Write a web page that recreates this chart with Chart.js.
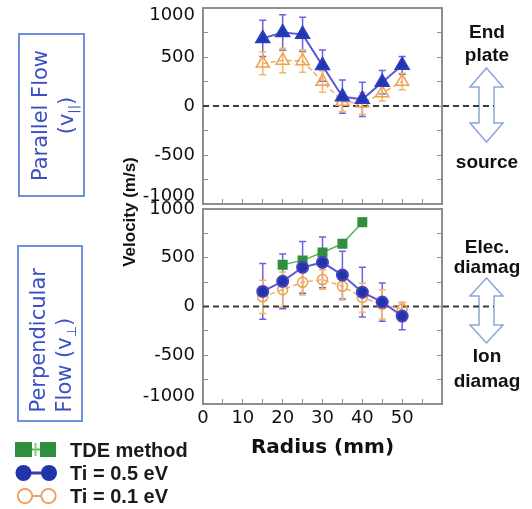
<!DOCTYPE html>
<html>
<head>
<meta charset="utf-8">
<script src="https://cdn.jsdelivr.net/npm/chart.js@4.4.1/dist/chart.umd.min.js"></script>
<style>
  body { margin: 0; background: #fff; }
  #wrap { position: relative; width: 532px; height: 509px; overflow: hidden; font-family: "Liberation Sans", Arial, sans-serif; }
  canvas { position: absolute; left: 0; }
  svg { position: absolute; left: 0; top: 0; }
  .box { position: absolute; box-sizing: border-box; border: 2px solid #6d8fdc; }
  .rot { position: absolute; box-sizing: border-box; transform: rotate(-90deg); display: flex; flex-direction: column; justify-content: center;
         font-family: "DejaVu Sans"; font-size: 21px; line-height: 26px; color: #3b4fc4; white-space: nowrap; }
  .rot sub { font-size: 13px; line-height: 0; }
  .note { position: absolute; left: 437px; width: 100px; text-align: center; font-weight: bold; font-size: 19px; line-height: 19px; color: #111; }
  .leg { position: absolute; left: 70px; font-weight: bold; font-size: 20px; line-height: 20px; color: #1a1a1a; white-space: nowrap; }
  #vel { position: absolute; left: 30px; top: 200px; width: 200px; height: 24px; line-height: 24px; text-align: center;
         font-weight: bold; font-size: 17px; color: #111; transform: rotate(-90deg); }
</style>
</head>
<body>
<div id="wrap">
  <svg width="532" height="509">
    <!-- direction arrows -->
    <polygon points="486.5,68 503,87 494,87 494,123 503,123 486.5,142 470,123 479,123 479,87 470,87"
             fill="#fff" stroke="#8aa6d6" stroke-width="1.5"/>
    <polygon points="486.5,278 503,296 494,296 494,325 503,325 486.5,343 470,325 479,325 479,296 470,296"
             fill="#fff" stroke="#8aa6d6" stroke-width="1.5"/>
    <!-- legend icons -->
    <line x1="31" y1="449.5" x2="40" y2="449.5" stroke="#58b858" stroke-width="2"/>
    <rect x="15" y="442" width="17" height="15" fill="#2f8f3f"/>
    <rect x="40" y="442" width="16" height="15" fill="#2f8f3f"/>
    <line x1="35.5" y1="443" x2="35.5" y2="456" stroke="#7ccc7c" stroke-width="2"/>
    <line x1="24" y1="473" x2="48" y2="473" stroke="#3a3ab8" stroke-width="3"/>
    <circle cx="23.5" cy="473" r="8" fill="#1f35a8"/>
    <circle cx="49" cy="473" r="8" fill="#1f35a8"/>
    <line x1="32" y1="496" x2="41" y2="496" stroke="#f0a060" stroke-width="2"/>
    <circle cx="25" cy="496" r="7.2" fill="#fff" stroke="#ee9a50" stroke-width="1.8"/>
    <circle cx="48.5" cy="496" r="7.2" fill="#fff" stroke="#ee9a50" stroke-width="1.8"/>
  </svg>

  <canvas id="topChart" width="532" height="256" style="top:-22px"></canvas>
  <canvas id="bottomChart" width="532" height="281" style="top:179px"></canvas>

  <div class="box" style="left:18px;top:33px;width:67px;height:164px">
    <div class="rot" style="width:160px;height:63px;left:-48.5px;top:48.5px;align-items:center">
      <div>Parallel Flow</div>
      <div>(v<sub>||</sub>)</div>
    </div>
  </div>
  <div class="box" style="left:17px;top:245px;width:66px;height:177px">
    <div class="rot" style="width:173px;height:62px;left:-55.5px;top:55.5px;align-items:flex-start;padding-left:8px">
      <div>Perpendicular</div>
      <div>Flow (v<sub>⊥</sub>)</div>
    </div>
  </div>

  <div id="vel">Velocity (m/s)</div>

  <div class="note" style="top:22px">End</div>
  <div class="note" style="top:45px">plate</div>
  <div class="note" style="top:152px">source</div>
  <div class="note" style="top:237px">Elec.</div>
  <div class="note" style="top:257px">diamag</div>
  <div class="note" style="top:346px">Ion</div>
  <div class="note" style="top:371px">diamag</div>

  <div class="leg" style="top:440px">TDE method</div>
  <div class="leg" style="top:463px">Ti = 0.5 eV</div>
  <div class="leg" style="top:486px">Ti = 0.1 eV</div>
</div>

<script>
// radii (mm)
const radius = [15, 20, 25, 30, 35, 40, 45, 50];
const tdeRadius = [20, 25, 30, 35, 40];

// parallel flow (m/s)
const parallelHot = [690, 750, 731, 412, 95, 68, 242, 415];
const parallelHotErr = [185, 180, 175, 160, 170, 175, 120, 90];
const parallelCold = [435, 465, 460, 250, 45, 27, 132, 250];
const parallelColdErr = [115, 125, 115, 110, 100, 110, 80, 85];

// perpendicular flow (m/s)
const perpHot = [155, 258, 402, 452, 322, 147, 45, -98];
const perpHotErr = [285, 280, 265, 260, 245, 255, 195, 140];
const perpCold = [99, 173, 248, 276, 207, 92, 22, -28];
const perpColdErr = [170, 180, 130, 100, 140, 150, 150, 70];
const tde = [429, 473, 554, 643, 865];
const tdeErr = [35, 35, 30, 30, 40];

// dashed zero reference, runs out to the arrows
const zeroLine = [0, 73];

const radiusLabels = [0, 10, 20, 30, 40, 50];
const velocityLabels = [-1000, -500, 0, 500, 1000];

const pts = (xs, ys) => xs.map((x, i) => ({ x: x, y: ys[i] }));

const frame = {
  id: 'frame',
  beforeDatasetsDraw(chart) {
    const { ctx, chartArea: a } = chart;
    ctx.save();
    ctx.strokeStyle = '#8e8e8e';
    ctx.lineWidth = 2;
    ctx.strokeRect(a.left, a.top, a.right - a.left, a.bottom - a.top);
    ctx.restore();
  }
};

const errorBars = {
  id: 'errorBars',
  beforeDatasetsDraw(chart) {
    const ctx = chart.ctx;
    const yScale = chart.scales.y;
    chart.data.datasets.forEach((ds, i) => {
      if (!ds.errors) return;
      const meta = chart.getDatasetMeta(i);
      ctx.save();
      ctx.strokeStyle = ds.errorColor;
      ctx.lineWidth = 1.5;
      meta.data.forEach((pt, j) => {
        const v = ds.data[j].y;
        const top = yScale.getPixelForValue(v + ds.errors[j]);
        const bot = yScale.getPixelForValue(v - ds.errors[j]);
        ctx.beginPath();
        ctx.moveTo(pt.x, top); ctx.lineTo(pt.x, bot);
        ctx.moveTo(pt.x - 3.5, top); ctx.lineTo(pt.x + 3.5, top);
        ctx.moveTo(pt.x - 3.5, bot); ctx.lineTo(pt.x + 3.5, bot);
        ctx.stroke();
      });
      ctx.restore();
    });
  }
};

const tickFont = { family: 'DejaVu Sans', size: 18 };
const yTickFont = { family: 'DejaVu Sans', size: 18, lineHeight: 0.85 };

// end labels are nudged inside the panel, like in the original figure
function yLabel(v, bottom) {
  if (!velocityLabels.includes(v)) return '';
  if (v === -1000) return [String(v), ''];
  if (v === 1000 && !bottom) return ['', String(v)];
  return String(v);
}

function panelScales(bottom) {
  return {
    x: {
      type: 'linear', min: 0, max: 60,
      afterFit: s => { s.height = bottom ? 56 : 30; },
      border: { display: false },
      grid: { drawOnChartArea: false, tickLength: -5, color: '#8e8e8e' },
      ticks: {
        display: bottom, stepSize: 5, autoSkip: false, maxRotation: 0, padding: 9,
        color: '#111', font: tickFont,
        callback: v => radiusLabels.includes(v) ? v : ''
      },
      title: {
        display: bottom, text: 'Radius (mm)', color: '#111', padding: 0,
        font: { family: 'DejaVu Sans', size: 20, weight: 'bold' }
      }
    },
    y: {
      min: -1000, max: 1000,
      afterFit: s => { s.width = 203; },
      border: { display: false },
      grid: { drawOnChartArea: false, tickLength: -5, color: '#8e8e8e' },
      ticks: {
        stepSize: 250, autoSkip: false, padding: 13, color: '#111', font: yTickFont,
        callback: v => yLabel(v, bottom)
      }
    },
    y2: {
      position: 'right', min: -1000, max: 1000,
      afterFit: s => { s.width = 0; },
      border: { display: false },
      grid: { drawOnChartArea: false, tickLength: -5, color: '#8e8e8e' },
      ticks: { display: false, stepSize: 250 }
    }
  };
}

function zeroSet() {
  return {
    data: pts(zeroLine, [0, 0]),
    borderColor: '#3a3a3a', borderWidth: 2, borderDash: [6, 4],
    pointRadius: 0, clip: false, order: 9
  };
}

function panel(id, datasets, bottom) {
  return new Chart(document.getElementById(id), {
    type: 'line',
    data: { datasets: datasets },
    options: {
      responsive: false,
      animation: false,
      devicePixelRatio: 1,
      layout: { padding: { top: 30, right: 90, left: 0, bottom: 0 } },
      plugins: { legend: { display: false }, tooltip: { enabled: false } },
      scales: panelScales(bottom)
    },
    plugins: [frame, errorBars]
  });
}

panel('topChart', [
  {
    data: pts(radius, parallelHot), errors: parallelHotErr, errorColor: '#6c62d9',
    borderColor: '#5c5ad8', borderWidth: 2,
    pointStyle: 'triangle', pointRadius: 7.5,
    pointBackgroundColor: '#1f38b0', pointBorderColor: '#2a3cc0', order: 1
  },
  {
    data: pts(radius, parallelCold), errors: parallelColdErr, errorColor: '#f3b565',
    borderColor: '#f2aa5e', borderWidth: 1.5, borderDash: [5, 3],
    pointStyle: 'triangle', pointRadius: 7.5,
    pointBackgroundColor: 'rgba(255,255,255,0)', pointBorderColor: '#efa04a', pointBorderWidth: 1.5, order: 2
  },
  zeroSet()
], false);

panel('bottomChart', [
  {
    data: pts(radius, perpHot), errors: perpHotErr, errorColor: '#6c62d9',
    borderColor: '#5c5ad8', borderWidth: 2,
    pointStyle: 'circle', pointRadius: 5.5,
    pointBackgroundColor: '#1f35a8', pointBorderColor: '#4a3fc0', order: 1
  },
  {
    data: pts(tdeRadius, tde), errors: tdeErr, errorColor: '#55b555',
    borderColor: '#58b858', borderWidth: 1.5,
    pointStyle: 'rect', pointRadius: 6,
    pointBackgroundColor: '#2f8f3f', pointBorderColor: '#2f8f3f', order: 2
  },
  {
    data: pts(radius, perpCold), errors: perpColdErr, errorColor: '#f3b565',
    borderColor: '#f2aa5e', borderWidth: 1.5, borderDash: [5, 3],
    pointStyle: 'circle', pointRadius: 5,
    pointBackgroundColor: 'rgba(255,255,255,0)', pointBorderColor: '#efa04a', pointBorderWidth: 1.5, order: 3
  },
  zeroSet()
], true);
</script>
</body>
</html>
